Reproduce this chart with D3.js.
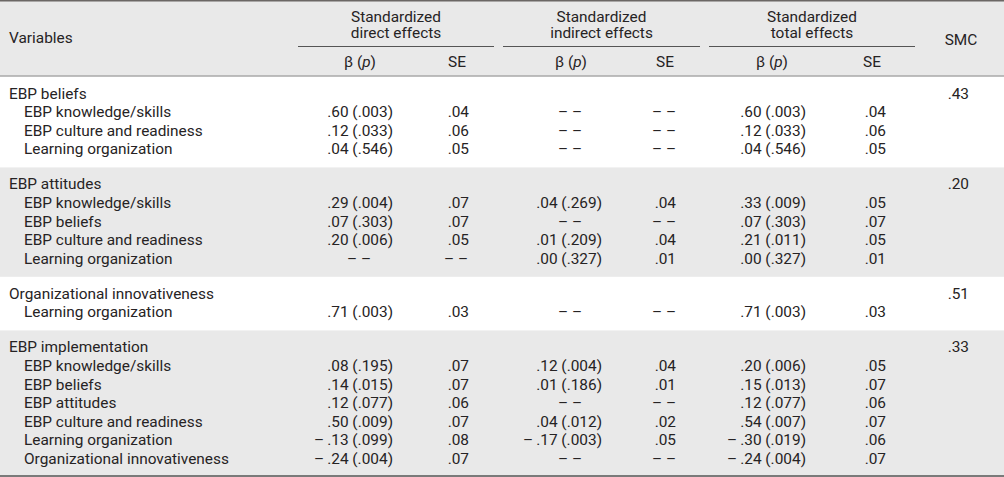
<!DOCTYPE html>
<html>
<head>
<meta charset="utf-8">
<script src="https://cdn.jsdelivr.net/npm/d3@7"></script>
<style>
  body { margin: 0; background: #fff; }
  svg text { font-family: Roboto, "Liberation Sans", Arial, sans-serif; font-size: 15.4px; fill: #262324; }
</style>
</head>
<body>
<div id="chart"></div>
<script>
// outcome variables (one block each) and their predictors
const outcomes = ["EBP beliefs", "EBP attitudes", "Organizational innovativeness", "EBP implementation"];
const smc = [.43, .20, .51, .33];
const predictors = [
    ["EBP knowledge/skills", "EBP culture and readiness", "Learning organization"],
    ["EBP knowledge/skills", "EBP beliefs", "EBP culture and readiness", "Learning organization"],
    ["Learning organization"],
    ["EBP knowledge/skills", "EBP beliefs", "EBP attitudes", "EBP culture and readiness", "Learning organization", "Organizational innovativeness"]
];

// null = "– –"
const directB  = [[.60, .12, .04], [.29, .07, .20, null], [.71], [.08, .14, .12, .50, -.13, -.24]];
const directP  = [[.003, .033, .546], [.004, .303, .006, null], [.003], [.195, .015, .077, .009, .099, .004]];
const directSE = [[.04, .06, .05], [.07, .07, .05, null], [.03], [.07, .07, .06, .07, .08, .07]];

const indirectB  = [[null, null, null], [.04, null, .01, .00], [null], [.12, .01, null, .04, -.17, null]];
const indirectP  = [[null, null, null], [.269, null, .209, .327], [null], [.004, .186, null, .012, .003, null]];
const indirectSE = [[null, null, null], [.04, null, .04, .01], [null], [.04, .01, null, .02, .05, null]];

const totalB  = [[.60, .12, .04], [.33, .07, .21, .00], [.71], [.20, .15, .12, .54, -.30, -.24]];
const totalP  = [[.003, .033, .546], [.009, .303, .011, .327], [.003], [.006, .013, .077, .007, .019, .004]];
const totalSE = [[.04, .06, .05], [.05, .07, .05, .01], [.03], [.05, .07, .06, .07, .06, .07]];

const groupHeads = ["Standardized\ndirect effects", "Standardized\nindirect effects", "Standardized\ntotal effects"];

const W = 1004, H = 477;
const svg = d3.select("#chart").append("svg")
    .attr("width", W).attr("height", H);

// ".60" style numbers, minus drawn as a dash like the printed table
const fmt = (v, n) => d3.format(`.${n}f`)(v).replace("0.", ".").replace("\u2212", "\u2013\u2009");
const DASH = "\u2013 \u2013";

// rows: flat list with block index
const rows = [];
outcomes.forEach((o, g) => {
    rows.push({ g, head: true, label: o, smc: smc[g] });
    predictors[g].forEach((p, k) => {
        rows.push({
            g, head: false, label: p,
            cells: [
                directB[g][k] == null ? null : `${fmt(directB[g][k], 2)} (${fmt(directP[g][k], 3)})`,
                directSE[g][k] == null ? null : fmt(directSE[g][k], 2),
                indirectB[g][k] == null ? null : `${fmt(indirectB[g][k], 2)} (${fmt(indirectP[g][k], 3)})`,
                indirectSE[g][k] == null ? null : fmt(indirectSE[g][k], 2),
                totalB[g][k] == null ? null : `${fmt(totalB[g][k], 2)} (${fmt(totalP[g][k], 3)})`,
                totalSE[g][k] == null ? null : fmt(totalSE[g][k], 2)
            ]
        });
    });
});

const pitch = 18.6, blockGap = 16.4;
const y = d3.scaleLinear().domain([0, rows.length - 1]).range([98.6, 98.6 + (rows.length - 1) * pitch]);
const rowY = (d, i) => y(i) + d.g * blockGap;

// column layout: centre (headers, dashes) and right edge (values)
const colCenter = d3.scaleOrdinal().domain(d3.range(7)).range([360, 457, 571, 665, 772, 872, 961]);
const colRight = d3.scaleOrdinal().domain(d3.range(7)).range([393, 469, 602, 676, 806, 886, 969]);
const groupSpan = [[298, 494], [503, 700], [709, 915]];

// backgrounds
const headerBottom = 76;
svg.append("rect").attr("x", 0).attr("y", 0).attr("width", W).attr("height", headerBottom).attr("fill", "#e9e9e9");
const blockStart = outcomes.map((o, g) => rowY(rows.find(r => r.g === g), rows.findIndex(r => r.g === g)) - 22);
outcomes.forEach((o, g) => {
    if (g % 2 === 0) return;
    const top = blockStart[g];
    const bottom = g + 1 < outcomes.length ? blockStart[g + 1] : 476;
    svg.append("rect").attr("x", 0).attr("y", top).attr("width", W).attr("height", bottom - top).attr("fill", "#e9e9e9");
});

// rules
svg.append("line").attr("x1", 0).attr("x2", W).attr("y1", 0.75).attr("y2", 0.75).attr("stroke", "#6b6765").attr("stroke-width", 1.5);
svg.append("line").attr("x1", 0).attr("x2", W).attr("y1", headerBottom).attr("y2", headerBottom).attr("stroke", "#a9a9a9").attr("stroke-width", 1.5);
svg.append("line").attr("x1", 0).attr("x2", W).attr("y1", 476).attr("y2", 476).attr("stroke", "#7a7a7a").attr("stroke-width", 2);
groupSpan.forEach(s => {
    svg.append("line").attr("x1", s[0]).attr("x2", s[1]).attr("y1", 46.5).attr("y2", 46.5)
        .attr("stroke", "#555").attr("stroke-width", 1);
});

// header text
svg.append("text").attr("x", 9).attr("y", 43).text("Variables");
svg.append("text").attr("x", colCenter(6)).attr("y", 45).attr("text-anchor", "middle").text("SMC");
groupHeads.forEach((h, i) => {
    const cx = (groupSpan[i][0] + groupSpan[i][1]) / 2;
    const t = svg.append("text").attr("text-anchor", "middle");
    h.split("\n").forEach((line, j) => {
        t.append("tspan").attr("x", cx).attr("y", 22 + j * 16).text(line);
    });
});
d3.range(6).forEach(c => {
    const t = svg.append("text").attr("x", colCenter(c)).attr("y", 67).attr("text-anchor", "middle");
    if (c % 2 === 0) {
        t.append("tspan").text("\u03b2 (");
        t.append("tspan").attr("font-style", "italic").text("p");
        t.append("tspan").text(")");
    } else {
        t.text("SE");
    }
});

// body
const body = svg.append("g");
const rowG = body.selectAll("g.row").data(rows).join("g")
    .attr("class", "row")
    .attr("transform", (d, i) => `translate(0,${rowY(d, i)})`);

rowG.append("text")
    .attr("x", d => d.head ? 9 : 24)
    .text(d => d.label);

rowG.filter(d => d.head).append("text")
    .attr("x", colRight(6)).attr("text-anchor", "end")
    .text(d => fmt(d.smc, 2));

rowG.filter(d => !d.head).each(function(d) {
    const g = d3.select(this);
    d.cells.forEach((v, c) => {
        if (v == null) {
            g.append("text").attr("x", colCenter(c) - 1).attr("text-anchor", "middle").text(DASH);
        } else {
            g.append("text").attr("x", colRight(c)).attr("text-anchor", "end").text(v);
        }
    });
});
</script>
</body>
</html>
